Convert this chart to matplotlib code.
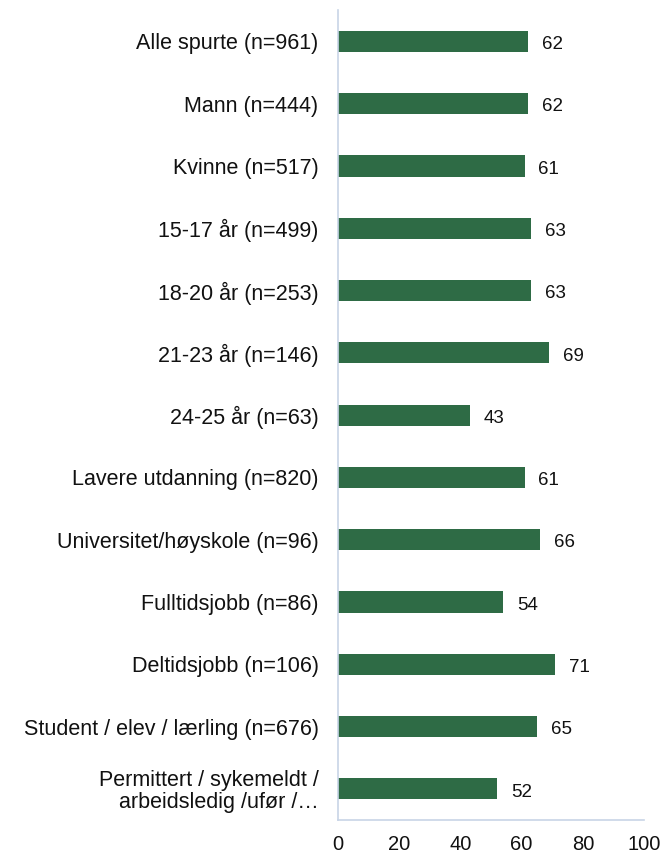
import matplotlib.pyplot as plt
import numpy as np

plt.rcParams['font.family'] = ['Liberation Sans', 'DejaVu Sans']

categories = [
    "Alle spurte (n=961)",
    "Mann (n=444)",
    "Kvinne (n=517)",
    "15-17 år (n=499)",
    "18-20 år (n=253)",
    "21-23 år (n=146)",
    "24-25 år (n=63)",
    "Lavere utdanning (n=820)",
    "Universitet/høyskole (n=96)",
    "Fulltidsjobb (n=86)",
    "Deltidsjobb (n=106)",
    "Student / elev / lærling (n=676)",
    "Permittert / sykemeldt /\narbeidsledig /ufør /…",
]
values = [62, 62, 61, 63, 63, 69, 43, 61, 66, 54, 71, 65, 52]
xticks = [0, 20, 40, 60, 80, 100]

fig = plt.figure(figsize=(6.64, 8.56), dpi=100)
ax = fig.add_axes([0.509, 0.042, 0.461, 0.946])

y = np.arange(len(categories))
ax.barh(y, values, height=0.34, color='#2E6B45')
for yi, v in zip(y, values):
    ax.text(v + 4.5, yi + 0.02, str(v), va='center_baseline', ha='left',
            fontsize=13.5, color='#111111')

ax.set_ylim(len(categories) - 0.5, -0.5)
ax.set_xlim(0, 100)
ax.set_yticks(y)
ax.set_yticklabels(categories, fontsize=15.5, color='#111111', linespacing=1.05)
ax.set_xticks(xticks)
ax.set_xticklabels([str(t) for t in xticks], fontsize=14.5, color='#111111')
ax.tick_params(length=0, axis='y', pad=14)
ax.tick_params(length=0, axis='x', pad=11)
for s in ['top', 'right']:
    ax.spines[s].set_visible(False)
ax.spines['left'].set_color('#C8D4E6')
ax.spines['bottom'].set_color('#C8D4E6')
ax.spines['left'].set_linewidth(1.2)
ax.spines['bottom'].set_linewidth(1.2)

fig.savefig('out.png', dpi=100)
